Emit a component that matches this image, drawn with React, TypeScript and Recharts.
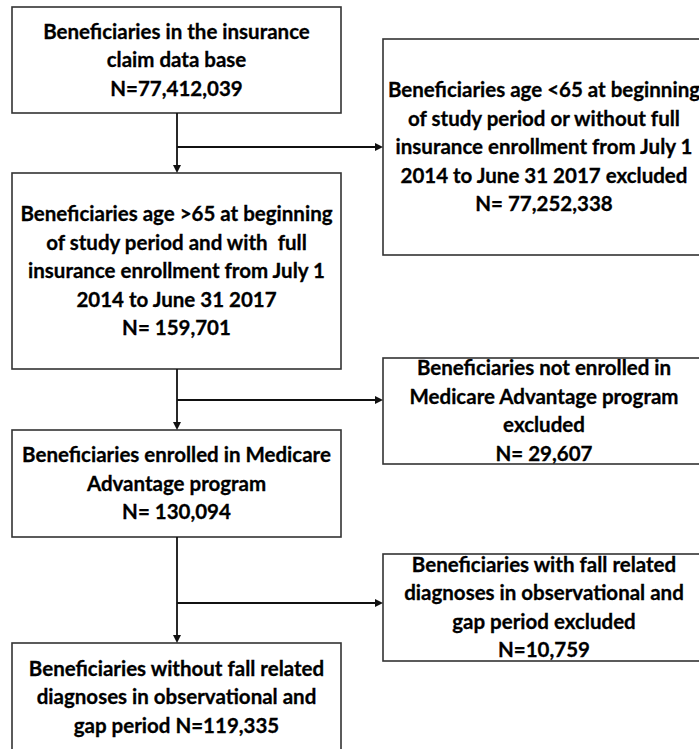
import React from 'react';
import { ComposedChart, XAxis, YAxis, ReferenceArea, ReferenceLine } from 'recharts';

// flow chart text: boxes kept in the cohort (left column)
const includedLines: string[][] = [
  ['Beneficiaries in the insurance', 'claim data base', 'N=77,412,039'],
  ['Beneficiaries age >65 at beginning', 'of study period and with  full', 'insurance enrollment from July 1', '2014 to June 31 2017', 'N= 159,701'],
  ['Beneficiaries enrolled in Medicare', 'Advantage program', 'N= 130,094'],
  ['Beneficiaries without fall related', 'diagnoses in observational and', 'gap period N=119,335'],
];

// boxes excluded at each step (right column)
const excludedLines: string[][] = [
  ['Beneficiaries age <65 at beginning', 'of study period or without full', 'insurance enrollment from July 1', '2014 to June 31 2017 excluded', 'N= 77,252,338'],
  ['Beneficiaries not enrolled in', 'Medicare Advantage program', 'excluded', 'N= 29,607'],
  ['Beneficiaries with fall related', 'diagnoses in observational and', 'gap period excluded', 'N=10,759'],
];

// layout in chart units (x: 0..699, y: 0..749 top-down)
const leftCol = { x1: 12, x2: 341 };
const rightCol = { x1: 383, x2: 705 };
const includedRows = [[7, 113], [173, 369], [430, 537], [643, 751]];
const excludedRows = [[39, 255], [358, 464], [554, 661]];
const spineX = 177;
const branchY = [147, 400, 603];

const LINE_H = 28.5;
const FONT = 'Lato, "Open Sans", sans-serif';

const BoxShape = (props: any) => {
  const { x, y, width, height, lines } = props;
  const cx = x + width / 2;
  const cy = y + height / 2;
  const top = cy - ((lines.length - 1) * LINE_H) / 2;
  return (
    <g>
      <rect x={x} y={y} width={width} height={height} fill="#fff" stroke="none" />
      <text textAnchor="middle" fontFamily={FONT} fontWeight={700} fontSize={20.5} fill="#000" stroke="#000" strokeWidth={0.3}>
        {lines.map((l: string, i: number) => (
          <tspan key={i} x={cx} y={top + i * LINE_H} dy="0.35em" style={{ whiteSpace: 'pre' }}>{l}</tspan>
        ))}
      </text>
      <rect x={x} y={y} width={width} height={height} fill="none" stroke="#333" strokeWidth={1.6} />
    </g>
  );
};

const Arrow = (props: any) => {
  const { x1, y1, x2, y2, arrow } = props;
  if (x1 == null) return null;
  const ang = Math.atan2(y2 - y1, x2 - x1);
  const len = 8;
  const half = 4;
  const bx = x2 - len * Math.cos(ang);
  const by = y2 - len * Math.sin(ang);
  const px = -Math.sin(ang) * half;
  const py = Math.cos(ang) * half;
  return (
    <g>
      <line x1={x1} y1={y1} x2={arrow ? bx : x2} y2={arrow ? by : y2} stroke="#111" strokeWidth={1.8} />
      {arrow && <polygon points={`${x2},${y2} ${bx + px},${by + py} ${bx - px},${by - py}`} fill="#111" />}
    </g>
  );
};

export default function App() {
  return (
    <div style={{ position: 'absolute', left: 0, top: 0, width: 699, height: 749, overflow: 'hidden', background: '#fff' }}>
      <ComposedChart width={699} height={749} margin={{ top: 0, right: 0, bottom: 0, left: 0 }} data={[]}>
        <XAxis type="number" dataKey="x" domain={[0, 699]} hide allowDataOverflow />
        <YAxis type="number" dataKey="y" domain={[0, 749]} reversed hide allowDataOverflow />

        {/* vertical spine between kept boxes */}
        {includedRows.slice(1).map((r, i) => (
          <ReferenceLine
            key={`v${i}`}
            ifOverflow="visible"
            segment={[{ x: spineX, y: includedRows[i][1] }, { x: spineX, y: r[0] }]}
            shape={(p: any) => <Arrow {...p} arrow />}
          />
        ))}
        {/* branches to excluded boxes */}
        {branchY.map((by, i) => (
          <ReferenceLine
            key={`h${i}`}
            ifOverflow="visible"
            segment={[{ x: spineX, y: by }, { x: rightCol.x1, y: by }]}
            shape={(p: any) => <Arrow {...p} arrow />}
          />
        ))}

        {includedLines.map((lines, i) => (
          <ReferenceArea
            key={`in${i}`}
            ifOverflow="visible"
            x1={leftCol.x1}
            x2={leftCol.x2}
            y1={includedRows[i][0]}
            y2={includedRows[i][1]}
            shape={(p: any) => <BoxShape {...p} lines={lines} />}
          />
        ))}
        {excludedLines.map((lines, i) => (
          <ReferenceArea
            key={`ex${i}`}
            ifOverflow="visible"
            x1={rightCol.x1}
            x2={rightCol.x2}
            y1={excludedRows[i][0]}
            y2={excludedRows[i][1]}
            shape={(p: any) => <BoxShape {...p} lines={lines} />}
          />
        ))}
      </ComposedChart>
    </div>
  );
}
